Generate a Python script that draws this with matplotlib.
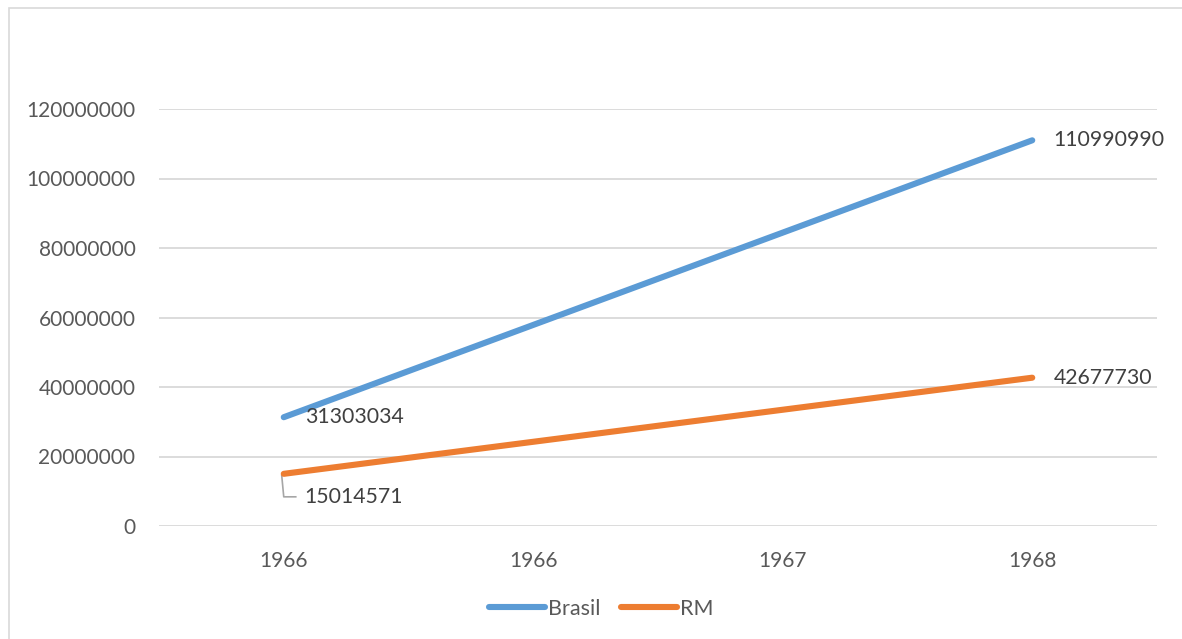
import matplotlib
matplotlib.use("Agg")
import matplotlib.pyplot as plt
from matplotlib.patches import Rectangle
import numpy as np

# Chart data
categories = ["1966", "1966", "1967", "1968"]
brasil = [31303034, None, None, 110990990]
rm = [15014571, None, None, 42677730]
y_ticks = [0, 20000000, 40000000, 60000000, 80000000, 100000000, 120000000]

BLUE = "#5B9BD5"
ORANGE = "#ED7D31"
GRID = "#D9D9D9"
TICK_TXT = "#595959"
LABEL_TXT = "#404040"

plt.rcParams["font.family"] = ["Lato", "DejaVu Sans"]

W, H = 1182, 639
fig = plt.figure(figsize=(W / 100, H / 100), dpi=100)
fig.patch.set_facecolor("white")

# Outer chart border
fig.add_artist(Rectangle((9 / W, -0.05), 1.1, 1 - 8 / H + 0.05,
                         transform=fig.transFigure, fill=False,
                         edgecolor=GRID, linewidth=1.2))

ax = fig.add_axes([159 / W, (H - 526) / H, (1157 - 159) / W, (526 - 109) / H])
x = np.arange(len(categories))


def valid(series):
    idx = [i for i, v in enumerate(series) if v is not None]
    return np.array(idx), np.array([series[i] for i in idx], dtype=float)


bx, by = valid(brasil)
rx, ry = valid(rm)
ax.plot(bx, by, color=BLUE, linewidth=4.4, solid_capstyle="round", label="Brasil", zorder=3)
ax.plot(rx, ry, color=ORANGE, linewidth=4.4, solid_capstyle="round", label="RM", zorder=3)

ax.set_xlim(-0.5, len(categories) - 0.5)
ax.set_ylim(0, 120000000)
ax.set_xticks(x)
ax.set_xticklabels(categories)
ax.set_yticks(y_ticks)
ax.set_yticklabels([str(v) for v in y_ticks])
ax.tick_params(axis="both", length=0, labelsize=15, labelcolor=TICK_TXT)
ax.tick_params(axis="y", pad=17)
ax.tick_params(axis="x", pad=18)
ax.grid(axis="y", color=GRID, linewidth=1.3)
ax.set_axisbelow(True)
for s in ax.spines.values():
    s.set_visible(False)

lbl = dict(fontsize=15.3, color=LABEL_TXT, va="center", ha="left")

# Data labels
ax.annotate(str(brasil[0]), (bx[0], by[0]), xytext=(15, 0), textcoords="offset points", **lbl)
ax.annotate(str(brasil[-1]), (bx[-1], by[-1]), xytext=(15.5, 0), textcoords="offset points", **lbl)
ax.annotate(str(rm[-1]), (rx[-1], ry[-1]), xytext=(15.5, 0), textcoords="offset points", **lbl)
ax.annotate(str(rm[0]), (rx[0], ry[0]), xytext=(15, -16.5), textcoords="offset points", **lbl)

# Leader line for the first RM label
trans = ax.transData
p0 = trans.transform((rx[0], ry[0]))
pts = np.array([[p0[0] - 2, p0[1] - 2], [p0[0], p0[1] - 23], [p0[0] + 12, p0[1] - 23]])
pts_ax = ax.transAxes.inverted().transform(pts)
ax.plot(pts_ax[:, 0], pts_ax[:, 1], transform=ax.transAxes, color="#A6A6A6",
        linewidth=1.2, clip_on=False, zorder=2)

fig.legend(loc="center", bbox_to_anchor=(601 / W, 1 - 609 / H), ncol=2,
           frameon=False, fontsize=15.5, labelcolor=TICK_TXT,
           handlelength=2.6, handletextpad=0.15, columnspacing=0.95)

fig.savefig("out.png", dpi=100, facecolor="white")
